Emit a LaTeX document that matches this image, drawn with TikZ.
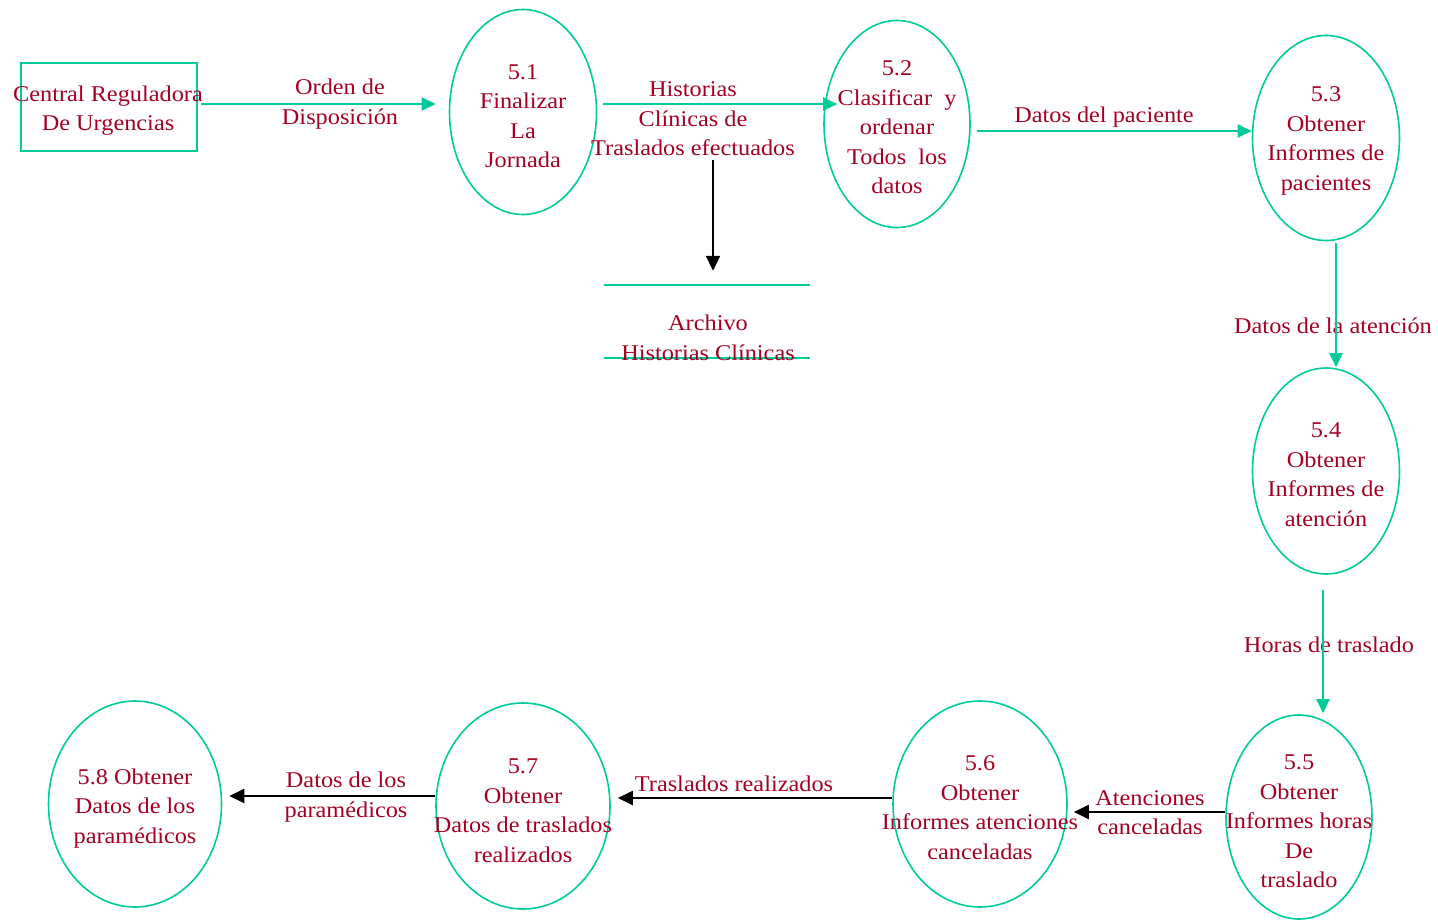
\documentclass[tikz,border=0pt]{standalone}
\usepackage{fontspec}
\setmainfont{Liberation Serif}[FakeStretch=1.08]
\usetikzlibrary{arrows.meta,shapes.geometric}
\definecolor{dfdgreen}{RGB}{0,204,153}
\definecolor{dfdred}{RGB}{165,0,33}
\begin{document}
\begin{tikzpicture}[x=1pt,y=-1pt,
  proc/.style={ellipse, draw=dfdgreen, line width=1.6pt, inner sep=0pt},
  txt/.style={text=dfdred, font=\fontsize{22.5}{29.5}\selectfont, align=center, inner sep=0pt, yshift=-2.5pt},
  garrow/.style={draw=dfdgreen, line width=2pt, -{Triangle[length=14pt,width=13pt]}},
  karrow/.style={draw=black, line width=2pt, -{Triangle[length=15pt,width=14pt]}}]
\useasboundingbox (0,0) rectangle (1438,919);
% external entity
\node[draw=dfdgreen, line width=1.6pt, minimum width=176pt, minimum height=88pt, inner sep=0pt] (b0) at (109,107) {};
\node[txt] (tb0) at (108,108) {Central Reguladora\\De Urgencias};
% processes
\node[proc, minimum width=147pt, minimum height=205pt] (p1) at (523,112) {};
\node[proc, minimum width=146pt, minimum height=207pt] (p2) at (897,124) {};
\node[proc, minimum width=147pt, minimum height=205pt] (p3) at (1326,138) {};
\node[proc, minimum width=147pt, minimum height=206pt] (p4) at (1326,471) {};
\node[proc, minimum width=146pt, minimum height=204pt] (p5) at (1299,817) {};
\node[proc, minimum width=174pt, minimum height=206pt] (p6) at (980,804) {};
\node[proc, minimum width=174pt, minimum height=206pt] (p7) at (523,806) {};
\node[proc, minimum width=173pt, minimum height=206pt] (p8) at (135,804) {};
\node[txt] (t1) at (523,113.5) {5.1\\Finalizar\\La\\Jornada};
\node[txt] (t2) at (897,125) {5.2\\Clasificar\ \ y\\ordenar\\Todos\ \ los\\datos};
\node[txt] (t3) at (1326,138.5) {5.3\\Obtener\\Informes de\\pacientes};
\node[txt] (t4) at (1326,472) {5.4\\Obtener\\Informes de\\atención};
\node[txt] (t5) at (1299,819) {5.5\\Obtener\\Informes horas\\De\\traslado};
\node[txt] (t6) at (980,805) {5.6\\Obtener\\Informes atenciones\\canceladas};
\node[txt] (t7) at (523,808) {5.7\\Obtener\\Datos de traslados\\realizados};
\node[txt] (t8) at (135,806) {5.8 Obtener\\Datos de los\\paramédicos};
% data store
\node[minimum width=206pt, minimum height=73pt, inner sep=0pt] (st) at (707,321.5) {};
\draw[dfdgreen, line width=1.6pt] (st.north west) -- (st.north east) (st.south west) -- (st.south east);
\node[txt] (tst) at (708,335.5) {Archivo\\Historias Clínicas};
% labels
\node[txt] (l1) at (340,101.5) {Orden de\\Disposición};
\node[txt] (l2) at (693,116.5) {Historias\\Clínicas de\\Traslados efectuados};
\node[txt] (l3) at (1104,115) {Datos del paciente};
\node[txt] (l4) at (1333,323) {Datos de la atención};
\node[txt] (l5) at (1329,642) {Horas de traslado};
\node[txt] (l6) at (1150,810) {Atenciones\\canceladas};
\node[txt] (l7) at (734,781) {Traslados realizados};
\node[txt] (l8) at (346,794.5) {Datos de los\\paramédicos};
% flows
\draw[garrow, shorten <=3pt, shorten >=13pt] (b0.east |- 0,104) -- (p1.west |- 0,104);
\draw[garrow, shorten <=5.5pt, shorten >=-14pt] (p1.east |- 0,104) -- (p2.west |- 0,104);
\draw[garrow, shorten <=6pt] (p2.east |- 0,131) -- (p3.west |- 0,131);
\draw[garrow, shorten <=2pt] (p3.south -| 1336,0) -- (p4.north -| 1336,0);
\draw[garrow, shorten <=15pt, shorten >=1pt] (p4.south -| 1323,0) -- (p5.north -| 1323,0);
\draw[karrow, shorten >=6pt] (p5.west |- 0,812) -- (p6.east |- 0,812);
\draw[karrow, shorten >=7pt] (p6.west |- 0,798) -- (p7.east |- 0,798);
\draw[karrow, shorten >=7pt] (p7.west |- 0,796) -- (p8.east |- 0,796);
\draw[karrow, shorten >=14pt] (713,160) -- (st.north -| 713,0);
\end{tikzpicture}
\end{document}
